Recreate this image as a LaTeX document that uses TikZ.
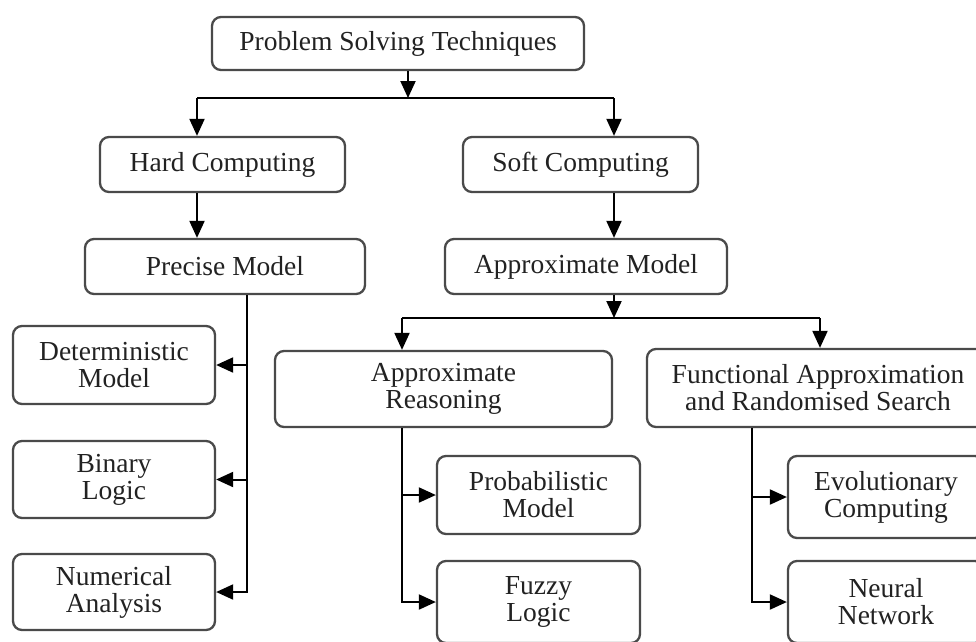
\documentclass[tikz,border=0pt]{standalone}
\usepackage{fontspec}
\setmainfont{Liberation Serif}
\usetikzlibrary{arrows.meta}
\definecolor{boxgray}{HTML}{4A4A4A}
\definecolor{textc}{HTML}{222222}
\begin{document}
\begin{tikzpicture}[x=1pt,y=-1pt,
  box/.style={draw=boxgray, line width=2.3pt, rounded corners=9pt, fill=white, align=center, inner sep=0pt, text=textc, font=\fontsize{27.5}{27}\selectfont},
  conn/.style={line width=2pt, draw=black},
  arr/.style={conn, -{Triangle[width=15pt,length=17pt]}}]
\useasboundingbox (0,0) rectangle (976,641);
\fill[white] (0,0) rectangle (976,641);
\clip (0,0) rectangle (976,641);
% nodes
\node[box, minimum width=372pt, minimum height=53pt] (pst) at (398,43.5) {Problem Solving Techniques};
\node[box, minimum width=245pt, minimum height=55pt] (hard) at (222.5,164.5) {Hard Computing};
\node[box, minimum width=235pt, minimum height=55pt] (soft) at (580.5,164.5) {Soft Computing};
\node[box, minimum width=280pt, minimum height=55pt] (precise) at (225,266.5) {Precise Model};
\node[box, minimum width=282pt, minimum height=55pt] (approxm) at (586,266.5) {Approximate Model};
\node[box, minimum width=202pt, minimum height=78pt] (det) at (114,365) {Deterministic\\Model};
\node[box, minimum width=202pt, minimum height=77pt] (bin) at (114,479.5) {Binary\\Logic};
\node[box, minimum width=202pt, minimum height=76pt] (num) at (114,592) {Numerical\\Analysis};
\node[box, minimum width=337pt, minimum height=76pt] (areason) at (443.5,389) {Approximate\\Reasoning};
\node[box, minimum width=342pt, minimum height=78pt] (func) at (818,388) {Functional Approximation\\and Randomised Search};
\node[box, minimum width=203pt, minimum height=78pt] (prob) at (538.5,495) {Probabilistic\\Model};
\node[box, minimum width=203pt, minimum height=82pt] (fuzzy) at (538.5,602) {Fuzzy\\Logic};
\node[box, minimum width=196pt, minimum height=82pt] (evol) at (886,497) {Evolutionary\\Computing};
\node[box, minimum width=196pt, minimum height=82pt] (neural) at (886,602) {Neural\\Network};
% connectors
\coordinate (j1) at (408,98);
\coordinate (hl) at (197,98);
\coordinate (hr) at (614,98);
\draw[arr] (pst.south -| j1) -- (j1);
\draw[conn] (hl) -- (hr);
\draw[arr] (hl) -- (hard.north -| hl);
\draw[arr] (hr) -- (soft.north -| hr);
\draw[arr] (hard.south -| hl) -- (precise.north -| hl);
\draw[arr] (soft.south -| hr) -- (approxm.north -| hr);
\coordinate (j2) at (614,318);
\coordinate (al) at (402,318);
\coordinate (ar) at (820,318);
\draw[arr] (approxm.south -| j2) -- (j2);
\draw[conn] (al) -- (ar);
\draw[arr] (al) -- (areason.north -| al);
\draw[arr] (ar) -- (func.north -| ar);
\coordinate (v1) at (247,0);
\draw[arr] (precise.south -| v1) |- (num.east);
\draw[arr] (det.east -| v1) -- (det.east);
\draw[arr] (bin.east -| v1) -- (bin.east);
\coordinate (v2) at (402,0);
\draw[arr] (areason.south -| v2) |- (fuzzy.west);
\draw[arr] (prob.west -| v2) -- (prob.west);
\coordinate (v3) at (752,0);
\draw[arr] (func.south -| v3) |- (neural.west);
\draw[arr] (evol.west -| v3) -- (evol.west);
\end{tikzpicture}
\end{document}
